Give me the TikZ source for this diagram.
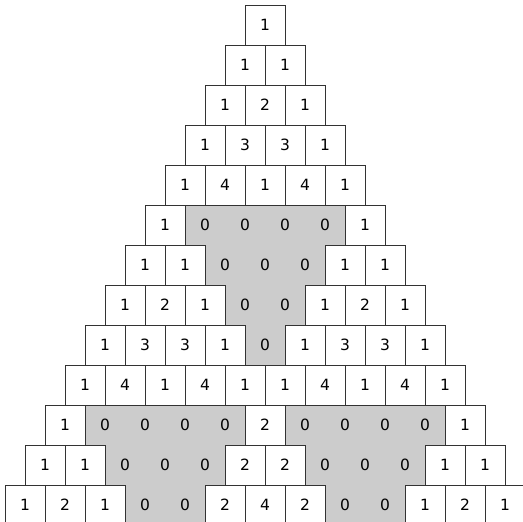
\documentclass[tikz,border=0pt]{standalone}
\usepackage{fontspec}
\setmainfont{DejaVu Sans}
\begin{document}
\begin{tikzpicture}[x=1pt,y=-1pt,
  cellbase/.style={rectangle,anchor=north west,minimum width=40pt,minimum height=40pt,
    inner sep=0pt,outer sep=0pt,font=\fontsize{15.5}{18}\selectfont},
  zerocell/.style={cellbase,fill=black!20,draw=black!20,line width=0.6pt},
  numcell/.style={cellbase,fill=white,draw=black!80,line width=0.8pt}]
\useasboundingbox (0,0) rectangle (523,522);
\clip (0,0) rectangle (523,522);
\fill[white] (0,0) rectangle (523,522);
\def\rows{{1},{1,1},{1,2,1},{1,3,3,1},{1,4,1,4,1},{1,0,0,0,0,1},{1,1,0,0,0,1,1},{1,2,1,0,0,1,2,1},{1,3,3,1,0,1,3,3,1},{1,4,1,4,1,1,4,1,4,1},{1,0,0,0,0,2,0,0,0,0,1},{1,1,0,0,0,2,2,0,0,0,1,1},{1,2,1,0,0,2,4,2,0,0,1,2,1}}
% gray (zero) cells first
\foreach \row [count=\r from 0] in \rows {
  \foreach \v [count=\i from 0] in \row {
    \ifnum\v=0
      \node[zerocell] (z\r-\i) at ({245-20*\r+40*\i},{5+40*\r}) {0};
    \fi
  }
}
% numbered cells on top
\foreach \row [count=\r from 0] in \rows {
  \foreach \v [count=\i from 0] in \row {
    \ifnum\v=0\relax\else
      \node[numcell] (c\r-\i) at ({245-20*\r+40*\i},{5+40*\r}) {\v};
    \fi
  }
}
\end{tikzpicture}
\end{document}
